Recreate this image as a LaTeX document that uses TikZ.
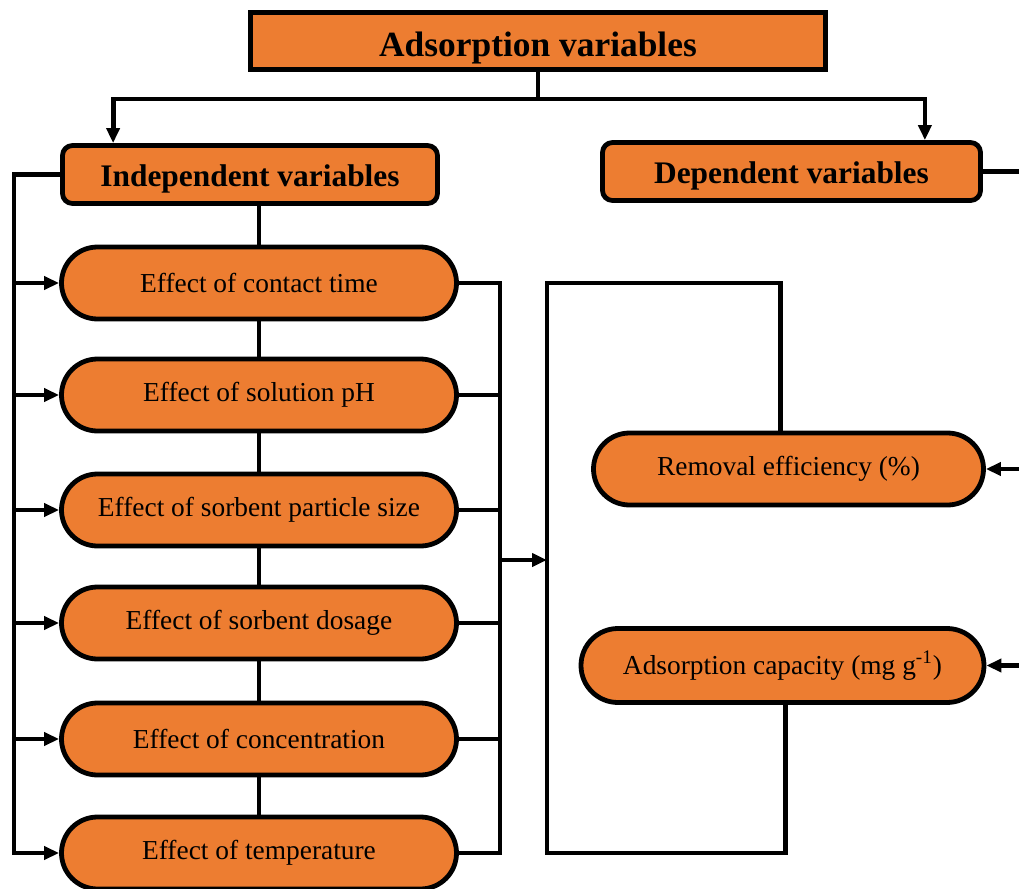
\documentclass[tikz,border=0pt]{standalone}
\usepackage{fontspec}
\setmainfont{Liberation Serif}
\usetikzlibrary{shapes.misc,arrows.meta}
\definecolor{boxorange}{HTML}{ED7D31}
\tikzset{
  head/.style={draw, fill=boxorange, line width=2.4pt, font=\fontsize{17.7}{20}\selectfont\bfseries, text height=15pt, text depth=0pt},
  group/.style={head, rounded corners=5pt, font=\fontsize{15.7}{18}\selectfont\bfseries, text height=12.2pt, minimum width=187.5pt, minimum height=29pt},
  effect/.style={draw, fill=boxorange, line width=2.4pt, rounded rectangle, font=\fontsize{13.7}{16}\selectfont, minimum width=201.5pt, minimum height=36pt, inner sep=2pt},
  link/.style={line width=2.4pt},
}

\begin{document}
\begin{tikzpicture}[x=0.5pt, y=-0.5pt, >={Triangle[length=7.5pt,width=6.5pt]}]
  \clip (0,0) rectangle (1019,889);
  \node[head, minimum width=287.5pt, minimum height=28.5pt] (top) at (538,41) {Adsorption variables};
  \node[group] (indep) at (250,174.5) {Independent variables};
  \node[group, minimum width=189pt] (dep) at (791.5,171.5) {Dependent variables};
  \foreach \name/\y/\txt in {s1/283/Effect of contact time, s2/395/Effect of solution pH,
      s3/510/Effect of sorbent particle size, s4/623/Effect of sorbent dosage,
      s5/739/Effect of concentration, s6/853/Effect of temperature}
    \node[effect] (\name) at (259,\y) {\txt};
  \node[effect, minimum width=199pt] (rem) at (788.5,469) {Removal efficiency (\%)};
  \node[effect, minimum width=205.5pt, minimum height=37pt] (cap) at (782.5,665.5) {Adsorption capacity (mg g\textsuperscript{-1})};

  \coordinate (split) at (538,99);
  \coordinate (lft) at (14,0);
  \coordinate (rgt) at (500,0);
  \coordinate (brk) at (547,0);
  \coordinate (out) at (1040,0);
  \coordinate (mid) at (500,560);
  \coordinate (gate) at (547,560);

  \draw[link] (top.south) -- (split);
  \draw[link,->] (split) -| ([xshift=26.5pt]indep.north west);
  \draw[link,->] (split) -| ([xshift=-29pt]dep.north east);

  \draw[link] (s1.north |- indep.south) -- (s1.north);
  \foreach \a/\b in {s1/s2,s2/s3,s3/s4,s4/s5,s5/s6}
    \draw[link] (\a.south) -- (\b.north);

  \draw[link,->] (indep.west) -| (lft |- s6.west) -- (s6.west);
  \foreach \i in {1,...,5}
    \draw[link,->] (lft |- s\i.west) -- (s\i.west);

  \draw[link] (s1.east) -| (rgt |- s6.east) -- (s6.east);
  \foreach \i in {2,...,5}
    \draw[link] (s\i.east) -- (rgt |- s\i.east);
  \draw[link,->] (mid) -- (gate);

  \draw[link] ([xshift=-4pt]rem.north) |- (brk |- s1.east) -- (brk |- s6.east) -| ([xshift=1.5pt]cap.south);

  \draw[link] (dep.east) -| (out |- cap.east);
  \draw[link,->] (out |- rem.east) -- (rem.east);
  \draw[link,->] (out |- cap.east) -- (cap.east);
\end{tikzpicture}
\end{document}
